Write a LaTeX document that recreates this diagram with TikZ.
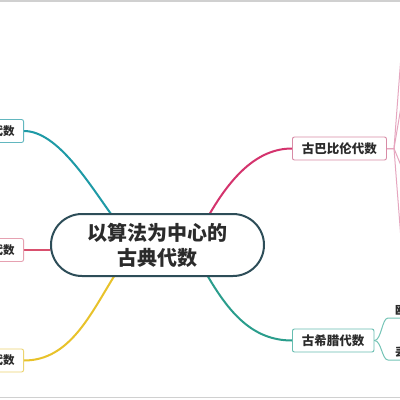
\documentclass[tikz,border=0pt]{standalone}
\usepackage{fontspec}
\newfontfamily\cjk{Noto Sans CJK SC}
\usetikzlibrary{calc,backgrounds}
\definecolor{centreborder}{HTML}{2D4D58}
\definecolor{tealline}{HTML}{1E9AA6}
\definecolor{tealbox}{HTML}{62B7BF}
\definecolor{pinkline}{HTML}{D9506E}
\definecolor{pinkbox}{HTML}{E6A1B1}
\definecolor{yellowline}{HTML}{E8C22A}
\definecolor{yellowbox}{HTML}{ECD470}
\definecolor{magline}{HTML}{D4336D}
\definecolor{magbox}{HTML}{D88BA6}
\definecolor{magsub}{HTML}{E6A6BF}
\definecolor{greenline}{HTML}{2A9D8C}
\definecolor{greenbox}{HTML}{66BDB0}
\definecolor{greensub}{HTML}{74C4B6}
\definecolor{textdark}{HTML}{2B2B2B}
\definecolor{framegray}{HTML}{D0D0D0}
\tikzset{
  centre/.style={draw=centreborder, line width=2pt, rounded corners=31pt,
    minimum width=213pt, minimum height=62pt, align=center, fill=white,
    text=textdark, font=\cjk\bfseries\fontsize{20}{25}\selectfont},
  boxnode/.style={rectangle, rounded corners=2pt, fill=white, line width=0.9pt,
    inner xsep=9.5pt, inner ysep=0pt, minimum height=23pt, text=textdark,
    font=\cjk\bfseries\fontsize{12.5}{13}\selectfont},
  leftbox/.style={boxnode, anchor=east, inner xsep=9pt,
    font=\cjk\bfseries\fontsize{11.5}{12}\selectfont},
  branch/.style={line width=2pt, line cap=round},
  subbranch/.style={line width=1pt, line cap=round},
  subtext/.style={inner sep=1pt, anchor=south west, text=textdark,
    font=\cjk\bfseries\fontsize{11.5}{12}\selectfont},
}
\begin{document}
\begin{tikzpicture}[x=1pt,y=-1pt]
\useasboundingbox (0,0) rectangle (400,400);
\clip (0,0) rectangle (400,400);
% nodes
\node[centre] (c) at (157.5,245) {以算法为中心的\\古典代数};
\node[leftbox, draw=tealbox] (l1) at (24,131) {古埃及代数};
\node[leftbox, draw=pinkbox] (l2) at (24,250) {古印度代数};
\node[leftbox, draw=yellowbox] (l3) at (24,360.5) {阿拉伯代数};
\node[boxnode, draw=magbox, anchor=west] (r1) at (292,148.5) {古巴比伦代数};
\node[boxnode, draw=greenbox, anchor=west] (r2) at (292,340.5) {古希腊代数};
% greek children
\coordinate (g1) at (388,318);
\coordinate (g1e) at (403,318);
\coordinate (g2) at (388,360);
\coordinate (g2e) at (403,360);
\node[subtext] (g1t) at (394,317) {欧几里得};
\node[subtext] (g2t) at (394,359) {丢番图};
% babylon children (off the page)
\coordinate (b1) at (402,43);
\coordinate (b2) at (402,101);
\coordinate (b3) at (402,168);
\coordinate (b4) at (402,252);
\begin{scope}[on background layer]
\fill[white] (0,0) rectangle (400,400);
\draw[framegray, line width=2pt] (0,0.5) -- (400,0.5);
\draw[framegray, line width=1.2pt] (0,397.5) -- (400,397.5);
\draw[branch, tealline] (l1.east) .. controls +(34,0) and +(-22,-30) .. ($(c.north)+(-45,3)$);
\draw[branch, pinkline] (l2.east) -- (l2.east -| c.west);
\draw[branch, yellowline] (l3.east) .. controls +(46,0) and +(-25,40) .. ($(c.south)+(-42,-3)$);
\draw[branch, magline] ($(c.north)+(51.5,2)$) .. controls +(22,-38) and +(-35,0) .. (r1.west);
\draw[branch, greenline] ($(c.south)+(49,-3)$) .. controls +(22,38) and +(-40,0) .. (r2.west);
\foreach \b in {b1,b2,b3,b4}
  \draw[subbranch, magsub] (r1.east) .. controls +(5,0) and +(-9,0) .. ($(r1.east -| \b)+(-8,0)$ |- \b) -- (\b);
\draw[subbranch, greensub] (r2.east) .. controls +(7,0) and +(-6,0) .. (g1) -- (g1e);
\draw[subbranch, greensub] (r2.east) .. controls +(7,0) and +(-6,0) .. (g2) -- (g2e);
\end{scope}
\end{tikzpicture}
\end{document}
